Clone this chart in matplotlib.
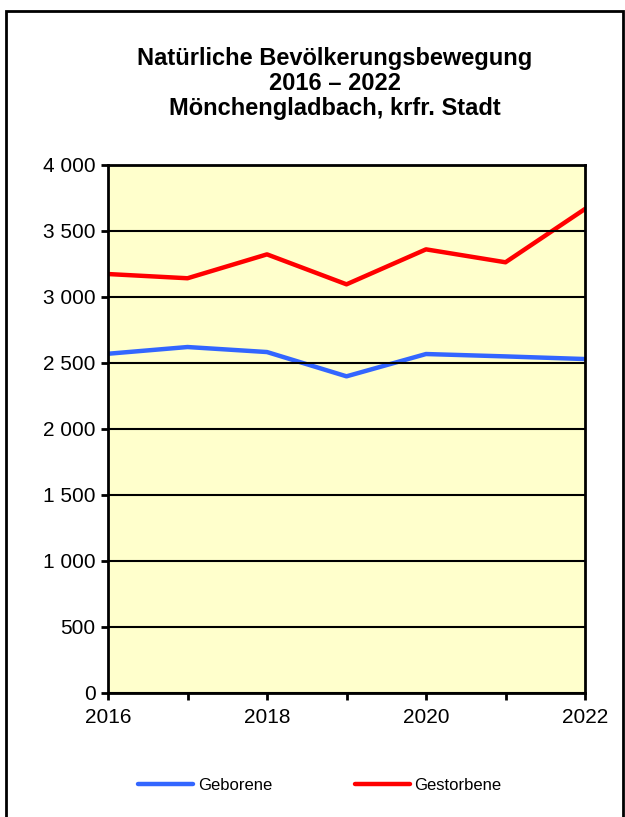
import matplotlib
matplotlib.use('Agg')
import matplotlib.pyplot as plt
from matplotlib.patches import Rectangle
from matplotlib.ticker import FuncFormatter

years = [2016, 2017, 2018, 2019, 2020, 2021, 2022]
geborene = [2570, 2621, 2583, 2399, 2568, 2550, 2530]
gestorbene = [3174, 3142, 3323, 3096, 3361, 3263, 3667]
title_lines = ['Natürliche Bevölkerungsbewegung', '2016 – 2022', 'Mönchengladbach, krfr. Stadt']

plt.rcParams['font.family'] = ['Liberation Sans', 'DejaVu Sans']

W, H = 625, 817
fig = plt.figure(figsize=(W / 100, H / 100), dpi=100)

# outer frame (open at the bottom)
fig.patches.append(Rectangle((6 / W, -0.05), (623 - 6) / W, (H - 11) / H + 0.05,
                             transform=fig.transFigure, fill=False,
                             edgecolor='black', linewidth=2))

for i, line in enumerate(title_lines):
    fig.text(0.536, 1 - (58 + i * 25.5) / H, line, ha='center', va='center',
             fontsize=17, fontweight='bold')

ax = fig.add_axes([108 / W, (H - 693) / H, (585 - 108) / W, (693 - 165) / H])
ax.set_facecolor('#FFFFCC')

ax.plot(years, geborene, color='#3366FF', linewidth=3.2, label='Geborene',
        solid_capstyle='round')
ax.plot(years, gestorbene, color='#FF0000', linewidth=3.2, label='Gestorbene',
        solid_capstyle='round')

ax.set_xlim(2016, 2022)
ax.set_ylim(0, 4000)
ax.set_yticks(range(0, 4001, 500))
ax.set_xticks(years)
ax.set_xticklabels([str(y) if y % 2 == 0 else '' for y in years])
ax.yaxis.set_major_formatter(FuncFormatter(lambda v, p: f'{int(v):,}'.replace(',', ' ')))
ax.grid(axis='y', color='black', linewidth=1.5)
ax.set_axisbelow(False)
for s in ax.spines.values():
    s.set_linewidth(2)
ax.tick_params(direction='out', length=5, width=2, labelsize=15, pad=4)
ax.tick_params(axis='x', pad=6)

fig.legend(loc='center', bbox_to_anchor=(320 / W, 1 - 785 / H), ncol=2, frameon=False,
           fontsize=12, handlelength=3.3, handletextpad=0.25, columnspacing=5.0)

fig.savefig('out.png', dpi=100)
